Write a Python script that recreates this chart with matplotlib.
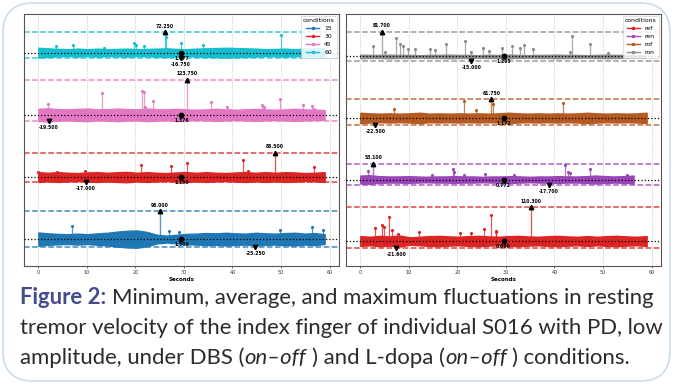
import numpy as np
import matplotlib
matplotlib.use('Agg')
import matplotlib.pyplot as plt
from matplotlib.lines import Line2D
from matplotlib.patches import FancyBboxPatch


# ---- pannello sinistro: condizioni DBS (15, 30, 45, 60) ----
left_names = ['15', '30', '45', '60']
left_means = [1.500, 1.150, 1.376, 1.677]
left_max_t = [25.1, 48.7, 30.6, 26.1]
left_max_v = [98.000, 86.500, 123.750, 72.250]
left_min_t = [44.7, 9.8, 2.1, 29.4]
left_min_v = [-25.250, -17.000, -19.500, -16.750]
left_end = [59.0, 59.0, 59.0, 59.0]

# picchi secondari (tempo, ampiezza sopra la media)
spk15_t = [6.9, 26.9, 28.9, 49.7, 56.4, 58.6]
spk15_v = [45, 28, 23, 31, 42, 31]
spk30_t = [0.0, 3.9, 9.6, 21.2, 27.4, 30.6, 42.1, 43.2, 56.8]
spk30_v = [17, 16, 20, 41, 37, 49, 58, 20, 34]
spk45_t = [1.9, 13.1, 21.3, 21.7, 22.0, 23.6, 35.6, 38.8, 39.4, 42.5, 46.0, 46.4, 49.8, 54.5, 56.3, 56.8]
spk45_v = [37, 75, 82, 78, 27, 48, 46, 27, 17, 17, 34, 27, 54, 35, 30, 20]
spk60_t = [3.6, 7.1, 13.6, 19.7, 20.1, 21.7, 26.4, 29.3, 33.9, 50.0]
spk60_v = [22, 28, 16, 34, 25, 22, 55, 35, 28, 63]

# semi-ampiezza della banda di rumore (30 campioni lungo la traccia)
band15 = [23, 20, 18, 17, 19, 17, 20, 22, 26, 29, 30, 25, 15, 12, 15, 18, 19, 21, 20, 22, 20, 19, 22, 20, 19, 21, 22, 19, 21, 17]
band30 = [17, 15, 17, 15, 14, 16, 17, 15, 17, 18, 15, 17, 15, 14, 16, 17, 15, 17, 15, 14, 16, 17, 15, 17, 15, 17, 16, 14, 15, 17]
band45 = [21, 23, 20, 19, 21, 22, 19, 20, 22, 20, 19, 22, 20, 19, 21, 19, 18, 19, 21, 19, 18, 19, 21, 19, 18, 19, 21, 19, 18, 17]
band60 = [17, 15, 13, 12, 14, 12, 14, 12, 13, 14, 12, 13, 14, 15, 13, 12, 14, 15, 16, 17, 16, 15, 14, 12, 13, 14, 12, 14, 15, 16]

# ---- pannello destro: condizioni L-dopa (ref, ren, rof, ron) ----
right_names = ['ref', 'ren', 'rof', 'ron']
right_means = [0.660, 0.772, 1.172, 1.295]
right_max_t = [35.2, 2.7, 27.0, 4.4]
right_max_v = [110.300, 53.100, 61.750, 81.700]
right_min_t = [7.4, 38.9, 3.1, 22.9]
right_min_v = [-21.600, -17.700, -22.500, -15.000]
right_end = [59.0, 56.3, 59.0, 58.8]

spkref_t = [3.1, 4.4, 4.9, 5.9, 6.5, 7.8, 12.1, 20.6, 22.9, 25.5, 27.0, 27.9, 28.0]
spkref_v = [44, 53, 46, 80, 37, 22, 28, 25, 25, 40, 85, 34, 28]
spkren_t = [1.6, 14.7, 19.1, 19.3, 21.4, 25.6, 31.6, 42.2, 42.7, 43.2, 47.4, 55.0]
spkren_v = [28, 14, 34, 25, 16, 17, 16, 47, 25, 22, 33, 14]
spkrof_t = [7.0, 21.3, 23.9, 27.3, 41.8]
spkrof_v = [29, 56, 25, 47, 48]
spkron_t = [2.7, 5.0, 7.4, 8.2, 8.7, 9.9, 11.3, 14.3, 15.4, 17.6, 21.5, 22.8, 25.3, 26.5,
            29.1, 31.3, 32.9, 33.7, 35.6, 43.2, 43.7, 47.4, 51.0]
spkron_v = [33, 16, 60, 40, 33, 24, 24, 25, 20, 42, 50, 14, 29, 19, 26, 33, 27, 36, 25, 14, 68, 41, 11]

bandref = [16, 14, 17, 15, 18, 12, 14, 16, 17, 15, 14, 16, 17, 15, 14, 16, 17, 15, 14, 16, 17, 15, 14, 16, 14, 16, 17, 15, 14, 16]
bandren = [13, 14, 11, 10, 10, 11, 10, 9, 10, 10, 11, 10, 10, 9, 10, 10, 11, 10, 9, 10, 10, 11, 10, 10, 11, 13, 11, 10, 11, 13]
bandrof = [17, 15, 14, 15, 14, 15, 17, 14, 15, 14, 15, 14, 15, 14, 15, 17, 15, 14, 15, 14, 15, 14, 15, 17, 15, 14, 15, 14, 15, 17]
bandron = [6, 5, 5, 6, 5, 5, 4, 5, 5, 6, 5, 5, 4, 5, 5, 6, 5, 4, 5, 5, 6, 5, 5, 4, 5, 6, 5, 5, 4, 5]

# stile
left_colors = ['#1f77b4', '#dc2424', '#e377c2', '#17becf']
right_colors = ['#dc2424', '#9a45b8', '#b45a22', '#8c8c8c']
left_offsets = [0, 216, 432, 648]
right_offsets = [0, 201, 402, 603]
mean_t = 29.5
ann_fs = 3.3


def draw_panel(ax, names, colors, offsets, means, max_t, max_v, min_t, min_v,
               ends, bands, spk_t, spk_v):
    for i in range(len(names)):
        c = colors[i]
        off = offsets[i]
        base = off + means[i]
        # banda del segnale
        tb = np.linspace(0, ends[i], len(bands[i]))
        w = np.array(bands[i], dtype=float)
        ax.fill_between(tb, base - w, base + w, color=c, lw=1.0, zorder=2)
        # picchi
        sv = base + np.array(spk_v[i], dtype=float)
        ax.vlines(spk_t[i], base, sv, color=c, lw=0.9, alpha=0.75, zorder=2)
        ax.plot(spk_t[i], sv, '.', color=c, ms=2.5, zorder=2)
        ax.vlines(max_t[i], base, off + max_v[i], color=c, lw=1.0, alpha=0.75, zorder=2)
        # linee di massimo, minimo e media
        ax.axhline(off + max_v[i], color=c, ls='--', lw=1.1, alpha=0.85, zorder=1)
        ax.axhline(off + min_v[i], color=c, ls='--', lw=1.1, alpha=0.85, zorder=1)
        ax.axhline(base, color='black', ls=':', lw=0.9, zorder=3)
        # marcatori e valori
        ax.plot(max_t[i], off + max_v[i], '^', color='black', ms=3.2, zorder=4)
        ax.plot(min_t[i], off + min_v[i], 'v', color='black', ms=3.2, zorder=4)
        ax.plot(mean_t, base, 'o', color='black', ms=3.2, zorder=4)
        ax.annotate(f'{max_v[i]:.3f}', (max_t[i], off + max_v[i]), xytext=(0, 4.5),
                    textcoords='offset points', ha='center', va='center',
                    fontsize=ann_fs, fontweight='bold', zorder=5)
        ax.annotate(f'{min_v[i]:.3f}', (min_t[i], off + min_v[i]), xytext=(0, -4.5),
                    textcoords='offset points', ha='center', va='center',
                    fontsize=ann_fs, fontweight='bold', zorder=5)
        ax.annotate(f'{means[i]:.3f}', (mean_t, base), xytext=(0, -4),
                    textcoords='offset points', ha='center', va='center',
                    fontsize=ann_fs, fontweight='bold', zorder=5)

    ax.set_xlim(-2.95, 61.95)
    ax.set_xticks([0, 10, 20, 30, 40, 50, 60])
    ax.set_yticks([])
    ax.tick_params(axis='x', labelsize=3.5, length=1.5, width=0.5, pad=1.5, colors='#333333')
    ax.grid(axis='x', ls=':', color='#bbbbbb', lw=0.6)
    ax.set_axisbelow(True)
    ax.set_xlabel('Seconds', fontsize=4, fontweight='bold', labelpad=1.5)
    for sp in ax.spines.values():
        sp.set_color('#555555')
        sp.set_linewidth(0.8)
    handles = [Line2D([], [], color=colors[k], marker='.', lw=1, ms=3) for k in range(len(names))]
    leg = ax.legend(handles, names, title='conditions', loc='upper right', fontsize=4.4,
                    title_fontsize=4.4, handlelength=2.2, borderaxespad=0.3,
                    labelspacing=0.45, framealpha=0.85)
    leg.get_frame().set_linewidth(0.5)


fig = plt.figure(figsize=(6.75, 3.85), dpi=100)
fig.patch.set_facecolor('white')

ax1 = fig.add_axes([24 / 675, 1 - 266 / 385, 315 / 675, 252 / 385])
draw_panel(ax1, left_names, left_colors, left_offsets, left_means, left_max_t, left_max_v,
           left_min_t, left_min_v, left_end, [band15, band30, band45, band60],
           [spk15_t, spk30_t, spk45_t, spk60_t], [spk15_v, spk30_v, spk45_v, spk60_v])
ax1.set_ylim(-92, 784)

ax2 = fig.add_axes([346 / 675, 1 - 266 / 385, 315 / 675, 252 / 385])
draw_panel(ax2, right_names, right_colors, right_offsets, right_means, right_max_t, right_max_v,
           right_min_t, right_min_v, right_end, [bandref, bandren, bandrof, bandron],
           [spkref_t, spkren_t, spkrof_t, spkron_t], [spkref_v, spkren_v, spkrof_v, spkron_v])
ax2.set_ylim(-81, 743)

# cornice arrotondata
frame = FancyBboxPatch((0.03, 0.04), 6.67, 3.78, boxstyle='round,pad=0,rounding_size=0.3',
                       transform=fig.dpi_scale_trans, fc='none', ec='#c9dcef', lw=1.2)
fig.add_artist(frame)

# didascalia con stili misti
cap_font = 'Lato'
cap_size = 15.9
txt_col = '#2b2b2b'
fig_col = '#454a8c'
renderer = fig.canvas.get_renderer()


def space_w(**kw):
    a = fig.text(0, 0, 'x x', fontsize=cap_size, family=cap_font, **kw)
    b = fig.text(0, 0, 'xx', fontsize=cap_size, family=cap_font, **kw)
    wdt = a.get_window_extent(renderer).width - b.get_window_extent(renderer).width
    a.remove()
    b.remove()
    return wdt


def caption_line(pieces, x_px, y_px):
    x = x_px
    for s, kw in pieces:
        lead = len(s) - len(s.lstrip(' '))
        x += lead * space_w(**kw)
        t = fig.text(x / 675, 1 - y_px / 385, s.strip(' '), fontsize=cap_size, family=cap_font,
                     va='baseline', ha='left', **kw)
        x += t.get_window_extent(renderer).width
        trail = len(s) - len(s.rstrip(' '))
        x += trail * space_w(**kw)


normal = dict(color=txt_col)
caption_line([('Figure 2:', dict(color=fig_col, fontweight='bold')),
              (' Minimum, average, and maximum fluctuations in resting', normal)], 20, 304)
caption_line([('tremor velocity of the index finger of individual S016 with PD, low', normal)], 20, 334)
caption_line([('amplitude, under DBS (', normal), ('on–off', dict(color=txt_col, style='italic')),
              (' ) and L-dopa (', normal), ('on–off', dict(color=txt_col, style='italic')),
              (' ) conditions.', normal)], 20, 364)

fig.savefig('out.png', dpi=100)
